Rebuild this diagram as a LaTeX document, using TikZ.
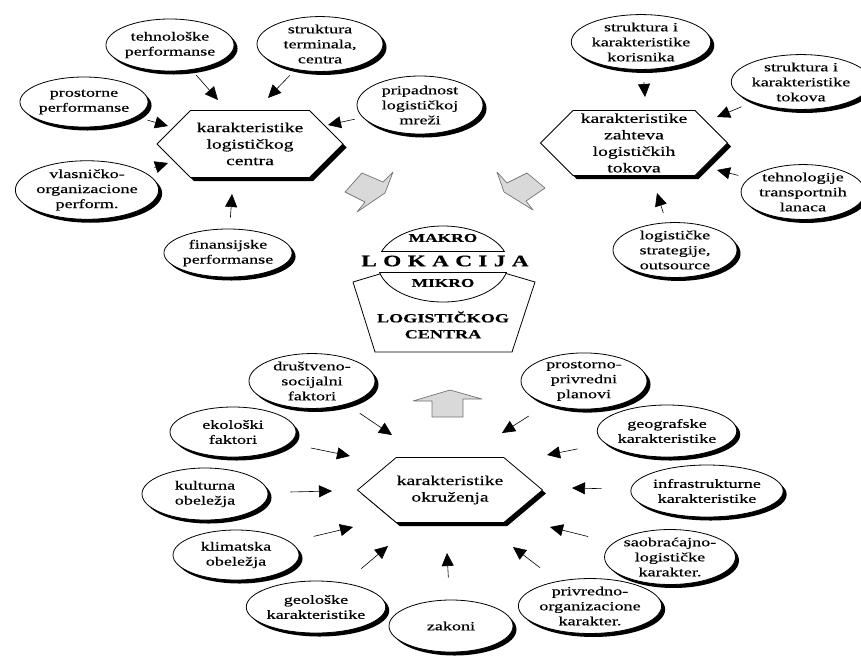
\documentclass[tikz,border=0pt]{standalone}
\usepackage{fontspec}
\setmainfont{Liberation Serif}[FakeStretch=1.45, FakeBold=0.4]
\usetikzlibrary{shapes.geometric,shapes.symbols,shadows,arrows.meta}

\tikzset{
  senka/.style={drop shadow={shadow xshift=3.5pt, shadow yshift=-3.5pt, opacity=1, fill=black}},
  oval/.style={ellipse, draw, line width=0.8pt, fill=white, inner sep=0pt,
    minimum width=126pt, minimum height=52pt, align=center,
    font=\fontsize{12.5}{15}\selectfont, senka},
  hexa/.style={signal, signal to=west and east, signal pointer angle=90, draw,
    line width=0.8pt, fill=white, inner sep=0pt, align=center,
    font=\fontsize{13.5}{16.5}\selectfont, senka},
  pfeil/.style={-{Triangle[length=13pt,width=12pt]}, line width=0.6pt},
  sivo/.style={draw=black!55, fill=black!15, line width=0.7pt, line join=round},
  natpis/.style={font=\bfseries\fontsize{12}{15}\selectfont, align=center}
}

\begin{document}
\begin{tikzpicture}[x=1pt, y=-1pt]
\useasboundingbox (0,0) rectangle (861,659);

% karakteristike logistickog centra
\node[hexa, minimum width=186, minimum height=67] (hlc) at (250,144) {karakteristike\\logističkog\\centra};
\node[oval] (tehn) at (170,45) {tehnološke\\performanse};
\node[oval] (stru) at (320,44) {struktura\\terminala,\\centra};
\node[oval, minimum height=50] (pros) at (84,102) {prostorne\\performanse};
\node[oval, minimum height=58] (prip) at (420,105) {pripadnost\\logističkoj\\mreži};
\node[oval, minimum height=50] (vlas) at (87,190) {vlasničko-\\organizacione\\perform.};
\node[oval, minimum height=48] (fina) at (228,253) {finansijske\\performanse};

% karakteristike zahteva logistickih tokova
\node[hexa, minimum width=187, minimum height=65] (hzt) at (634,143) {karakteristike\\zahteva\\logističkih\\tokova};
\node[oval, minimum width=116, minimum height=44] (kori) at (641,42) {struktura i\\karakteristike\\korisnika};
\node[oval, minimum width=116, minimum height=44] (toko) at (801,82) {struktura i\\karakteristike\\tokova};
\node[oval, minimum width=116, minimum height=50] (tehl) at (803,192) {tehnologije\\transportnih\\lanaca};
\node[oval, minimum width=124, minimum height=54] (stra) at (675,250) {logističke\\strategije,\\outsource};

% karakteristike okruzenja
\node[hexa, minimum width=185, minimum height=65, signal pointer angle=80] (hok) at (450,490) {karakteristike\\okruženja};
\node[oval, minimum height=54] (drus) at (312,381) {društveno-\\socijalni\\faktori};
\node[oval, minimum height=50] (ekol) at (233,432) {ekološki\\faktori};
\node[oval] (kult) at (205,494) {kulturna\\obeležja};
\node[oval, minimum height=50] (klim) at (236,555) {klimatska\\obeležja};
\node[oval] (geol) at (316,607) {geološke\\karakteristike};
\node[oval, minimum width=124] (zako) at (451,626) {zakoni};
\node[oval, minimum width=124] (pror) at (590,606) {privredno-\\organizacione\\karakter.};
\node[oval, minimum height=48] (saob) at (670,557) {saobraćajno-\\logističke\\karakter.};
\node[oval] (infr) at (707,491) {infrastrukturne\\karakteristike};
\node[oval] (geog) at (667,431) {geografske\\karakteristike};
\node[oval, minimum height=54] (ppla) at (584,381) {prostorno-\\privredni\\planovi};

% vrhovi strelica
\coordinate (k1) at (218,100);
\coordinate (k2) at (268,98);
\coordinate (k3) at (168,126);
\coordinate (k4) at (328,125);
\coordinate (k5) at (168,163);
\coordinate (k6) at (232,194);
\coordinate (k7) at (645,97);
\coordinate (k8) at (717,117);
\coordinate (k9) at (717,170);
\coordinate (k10) at (657,193);
\coordinate (k11) at (392,435);
\coordinate (k12) at (350,456);
\coordinate (k13) at (332,491);
\coordinate (k14) at (353,527);
\coordinate (k15) at (388,546);
\coordinate (k16) at (447,553);
\coordinate (k17) at (513,547);
\coordinate (k18) at (550,527);
\coordinate (k19) at (572,488);
\coordinate (k20) at (547,455);
\coordinate (k21) at (502,433);

\draw[pfeil, shorten <=7pt] (tehn) -- (k1);
\draw[pfeil, shorten <=8pt] (stru) -- (k2);
\draw[pfeil, shorten <=12pt] (pros) -- (k3);
\draw[pfeil, shorten <=8pt] (prip) -- (k4);
\draw[pfeil, shorten <=12pt] (vlas) -- (k5);
\draw[pfeil, shorten <=11pt] (fina) -- (k6);
\draw[pfeil, shorten <=12pt] (kori) -- (k7);
\draw[pfeil, shorten <=12pt] (toko) -- (k8);
\draw[pfeil, shorten <=11pt] (tehl) -- (k9);
\draw[pfeil, shorten <=10pt] (stra) -- (k10);
\draw[pfeil, shorten <=16pt] (drus) -- (k11);
\draw[pfeil, shorten <=22pt] (ekol) -- (k12);
\draw[pfeil, shorten <=22pt] (kult) -- (k13);
\draw[pfeil, shorten <=24pt] (klim) -- (k14);
\draw[pfeil, shorten <=22pt] (geol) -- (k15);
\draw[pfeil, shorten <=22pt] (zako) -- (k16);
\draw[pfeil, shorten <=22pt] (pror) -- (k17);
\draw[pfeil, shorten <=26pt] (saob) -- (k18);
\draw[pfeil, shorten <=29pt] (infr) -- (k19);
\draw[pfeil, shorten <=28pt] (geog) -- (k20);
\draw[pfeil, shorten <=22pt] (ppla) -- (k21);

% sive strelice
\draw[sivo] (345,192) -- (362,173) -- (383,182) -- (393,172) -- (385,193) -- (357,212) -- (365,202) -- cycle;
\draw[sivo] (545,188) -- (527,173) -- (507,183) -- (497,172) -- (504,192) -- (533,210) -- (526,201) -- cycle;
\draw[sivo] (413,401) -- (450,390) -- (482,399) -- (463,399) -- (463,417) -- (432,417) -- (432,401) -- cycle;

% lokacija
\draw[line width=0.8pt, fill=white] (353,282) -- (443,255) -- (535,282) -- (512,352) -- (375,352) -- cycle;
\fill[white] (443,264) ellipse [x radius=65, y radius=38];
\begin{scope}
  \clip (0,0) rectangle (861,251);
  \draw[line width=0.8pt] (443,264) ellipse [x radius=65, y radius=38];
\end{scope}
\begin{scope}
  \clip (0,272) rectangle (861,659);
  \draw[line width=0.8pt] (443,264) ellipse [x radius=65, y radius=38];
\end{scope}
\begin{scope}
  \clip (443,264) ellipse [x radius=65, y radius=38];
  \draw[line width=0.8pt] (370,251) -- (520,251);
  \draw[line width=0.8pt] (370,272) -- (520,272);
\end{scope}
\node[natpis] (makro) at (443,238) {MAKRO};
\node[natpis, font=\bfseries\fontsize{16}{18}\selectfont\addfontfeature{LetterSpace=40}] (lok) at (445,261) {LOKACIJA};
\node[natpis] (mikro) at (443,283) {MIKRO};
\node[natpis, font=\bfseries\fontsize{12.5}{16}\selectfont] (logc) at (443,325) {LOGISTIČKOG\\CENTRA};

\end{tikzpicture}
\end{document}
